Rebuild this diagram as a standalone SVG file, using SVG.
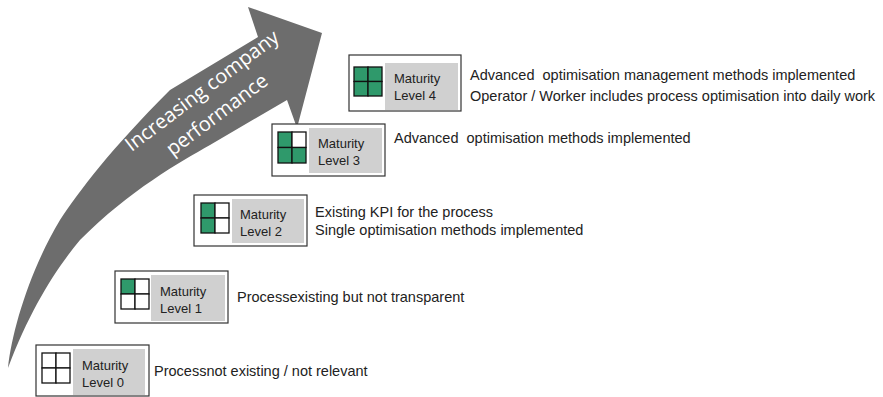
<svg xmlns="http://www.w3.org/2000/svg" width="883" height="397" viewBox="0 0 883 397">
<style>
.frame{fill:#fff;stroke:#333;stroke-width:1.2}
.lab{fill:#d0d0d0}
.cell{fill:#fff;stroke:#111;stroke-width:1.3}
.on{fill:#2f996b}
.bt{font-family:"Liberation Sans",Arial,sans-serif;font-size:13px;fill:#222}
.dt{font-family:"Liberation Sans",Arial,sans-serif;font-size:14.5px;fill:#222}
.at{font-family:"Open Sans","DejaVu Sans",sans-serif;font-size:20px;fill:#fff}
</style>
<g id="arrow">
<path d="M8,368 C12,330 30,270 60,220 C80,190 110,150 170,90 L258,37 L248,7 L322,33 L297,128 L287,100 L210,145 C180,162 130,190 80,240 C55,270 30,310 8,368 Z" fill="#6d6d6d"/>
<text class="at" transform="translate(206,96) rotate(-37)" text-anchor="middle">Increasing company</text>
<text class="at" transform="translate(221,120) rotate(-37)" text-anchor="middle">performance</text>
</g>
<g id="level0">
<rect class="frame" x="36" y="345" width="113" height="51"/>
<rect class="lab" x="73" y="349" width="72" height="46"/>
<rect class="cell" x="42" y="353" width="14" height="15"/><rect class="cell" x="56" y="353" width="14" height="15"/>
<rect class="cell" x="42" y="368" width="14" height="15"/><rect class="cell" x="56" y="368" width="14" height="15"/>
<text class="bt" x="82" y="370">Maturity</text><text class="bt" x="82" y="387">Level 0</text>
<text class="dt" x="154" y="376">Processnot existing / not relevant</text>
</g>
<g id="level1">
<rect class="frame" x="115" y="271" width="113" height="52"/>
<rect class="lab" x="151" y="275" width="74" height="46"/>
<rect class="cell on" x="121" y="279" width="14" height="15"/><rect class="cell" x="135" y="279" width="14" height="15"/>
<rect class="cell" x="121" y="294" width="14" height="15"/><rect class="cell" x="135" y="294" width="14" height="15"/>
<text class="bt" x="160" y="296">Maturity</text><text class="bt" x="160" y="313">Level 1</text>
<text class="dt" x="237" y="302">Processexisting but not transparent</text>
</g>
<g id="level2">
<rect class="frame" x="194" y="195" width="113" height="51"/>
<rect class="lab" x="232" y="199" width="72" height="44"/>
<rect class="cell on" x="201" y="203" width="14" height="15"/><rect class="cell" x="215" y="203" width="14" height="15"/>
<rect class="cell on" x="201" y="218" width="14" height="15"/><rect class="cell" x="215" y="218" width="14" height="15"/>
<text class="bt" x="240" y="219">Maturity</text><text class="bt" x="240" y="236">Level 2</text>
<text class="dt" x="315" y="217">Existing KPI for the process</text>
<text class="dt" x="315" y="235">Single optimisation methods implemented</text>
</g>
<g id="level3">
<rect class="frame" x="272" y="124" width="113" height="52"/>
<rect class="lab" x="309" y="128" width="73" height="45"/>
<rect class="cell on" x="278" y="132" width="14" height="15.5"/><rect class="cell" x="292" y="132" width="14" height="15.5"/>
<rect class="cell on" x="278" y="147.5" width="14" height="15.5"/><rect class="cell on" x="292" y="147.5" width="14" height="15.5"/>
<text class="bt" x="318" y="148">Maturity</text><text class="bt" x="318" y="165">Level 3</text>
<text class="dt" x="394" y="143" xml:space="preserve">Advanced  optimisation methods implemented</text>
</g>
<g id="level4">
<rect class="frame" x="349" y="55" width="112" height="56"/>
<rect class="lab" x="385" y="63" width="73" height="47"/>
<rect class="cell on" x="354" y="67" width="14" height="14.5"/><rect class="cell on" x="368" y="67" width="14" height="14.5"/>
<rect class="cell on" x="354" y="81.5" width="14" height="14.5"/><rect class="cell on" x="368" y="81.5" width="14" height="14.5"/>
<text class="bt" x="394" y="83">Maturity</text><text class="bt" x="394" y="100">Level 4</text>
<text class="dt" x="470" y="80" xml:space="preserve">Advanced  optimisation management methods implemented</text>
<text class="dt" x="470" y="101">Operator / Worker includes process optimisation into daily work</text>
</g>
</svg>
